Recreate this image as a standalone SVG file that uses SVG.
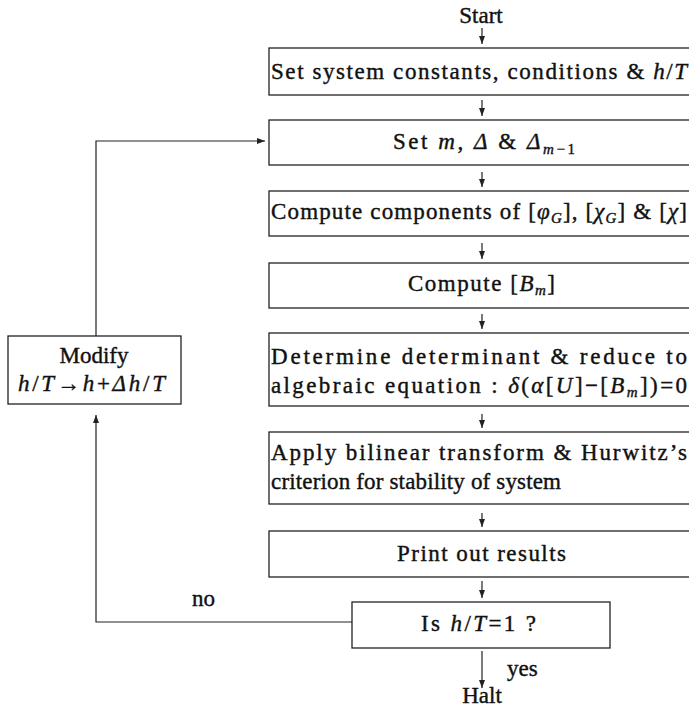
<svg xmlns="http://www.w3.org/2000/svg" width="689" height="711" viewBox="0 0 689 711">
<style>
  .box { fill: #fff; stroke: #222; stroke-width: 1.3; }
  .ln { fill: none; stroke: #222; stroke-width: 1.2; }
  text { font-family: "Liberation Serif", serif; font-size: 23px; fill: #111; stroke: #111; stroke-width: 0.4; }
  .c { text-anchor: middle; }
  .i { font-style: italic; }
  .s { font-size: 15px; }
</style>
<defs>
  <marker id="ah" markerWidth="10" markerHeight="8" refX="8" refY="4" orient="auto" markerUnits="userSpaceOnUse">
    <path d="M0,1 L8,4 L0,7 Z" fill="#222"/>
  </marker>
</defs>

<g id="start"><text class="c" x="481" y="23">Start</text></g>

<g id="n1">
  <rect class="box" x="269" y="48" width="430" height="47"/>
  <text x="271" y="79" textLength="416" lengthAdjust="spacing">Set system constants, conditions &amp; <tspan class="i">h</tspan>/<tspan class="i">T</tspan></text>
</g>

<g id="n2">
  <rect class="box" x="269" y="120" width="430" height="45"/>
  <text x="393" y="149" textLength="182" lengthAdjust="spacing">Set <tspan class="i">m</tspan>, <tspan class="i">Δ</tspan> &amp; <tspan class="i">Δ</tspan><tspan class="i s" dy="5">m</tspan><tspan class="s">−1</tspan></text>
</g>

<g id="n3">
  <rect class="box" x="269" y="191" width="430" height="45"/>
  <text x="271" y="219" textLength="416" lengthAdjust="spacing">Compute components of [<tspan class="i">φ</tspan><tspan class="i s" dy="4">G</tspan><tspan dy="-4">], [</tspan><tspan class="i">χ</tspan><tspan class="i s" dy="4">G</tspan><tspan dy="-4">] &amp; [</tspan><tspan class="i">χ</tspan>]</text>
</g>

<g id="n4">
  <rect class="box" x="269" y="263" width="430" height="45"/>
  <text x="408" y="291" textLength="147" lengthAdjust="spacing">Compute  [<tspan class="i">B</tspan><tspan class="i s" dy="4">m</tspan><tspan dy="-4">]</tspan></text>
</g>

<g id="n5">
  <rect class="box" x="269" y="333" width="430" height="73"/>
  <text x="271" y="364" textLength="416" lengthAdjust="spacing">Determine determinant &amp; reduce to</text>
  <text x="271" y="393" textLength="416" lengthAdjust="spacing">algebraic equation : <tspan class="i">δ</tspan>(<tspan class="i">α</tspan>[<tspan class="i">U</tspan>]−[<tspan class="i">B</tspan><tspan class="i s" dy="4">m</tspan><tspan dy="-4">])=0</tspan></text>
</g>

<g id="n6">
  <rect class="box" x="269" y="432" width="430" height="72"/>
  <text x="271" y="460" textLength="416" lengthAdjust="spacing">Apply bilinear transform &amp; Hurwitz’s</text>
  <text x="271" y="489" textLength="290" lengthAdjust="spacing">criterion for stability of system</text>
</g>

<g id="n7">
  <rect class="box" x="269" y="531" width="430" height="46"/>
  <text x="397" y="561" textLength="169" lengthAdjust="spacing">Print out results</text>
</g>

<g id="n8">
  <rect class="box" x="352" y="602" width="258" height="46"/>
  <text x="421" y="631" textLength="115" lengthAdjust="spacing">Is <tspan class="i">h</tspan>/<tspan class="i">T</tspan>=1 ?</text>
</g>

<g id="modify">
  <rect class="box" x="8" y="336" width="173" height="68"/>
  <text class="c" x="94" y="363">Modify</text>
  <text x="18" y="391" textLength="147" lengthAdjust="spacing"><tspan class="i">h</tspan>/<tspan class="i">T</tspan>→<tspan class="i">h</tspan>+<tspan class="i">Δh</tspan>/<tspan class="i">T</tspan></text>
</g>

<g id="halt"><text class="c" x="482" y="703">Halt</text></g>

<g id="connectors">
  <line class="ln" x1="482" y1="28" x2="482" y2="44" marker-end="url(#ah)"/>
  <line class="ln" x1="482" y1="100" x2="482" y2="116" marker-end="url(#ah)"/>
  <line class="ln" x1="482" y1="172" x2="482" y2="187" marker-end="url(#ah)"/>
  <line class="ln" x1="482" y1="243" x2="482" y2="259" marker-end="url(#ah)"/>
  <line class="ln" x1="482" y1="314" x2="482" y2="329" marker-end="url(#ah)"/>
  <line class="ln" x1="482" y1="414" x2="482" y2="428" marker-end="url(#ah)"/>
  <line class="ln" x1="482" y1="513" x2="482" y2="527" marker-end="url(#ah)"/>
  <line class="ln" x1="482" y1="581" x2="482" y2="598" marker-end="url(#ah)"/>
  <line class="ln" x1="482" y1="651" x2="482" y2="688" marker-end="url(#ah)"/>
  <polyline class="ln" points="352,622 96,622 96,415" marker-end="url(#ah)"/>
  <polyline class="ln" points="96,336 96,141 265,141" marker-end="url(#ah)"/>
  <text x="192" y="606">no</text>
  <text x="507" y="676">yes</text>
</g>
</svg>
